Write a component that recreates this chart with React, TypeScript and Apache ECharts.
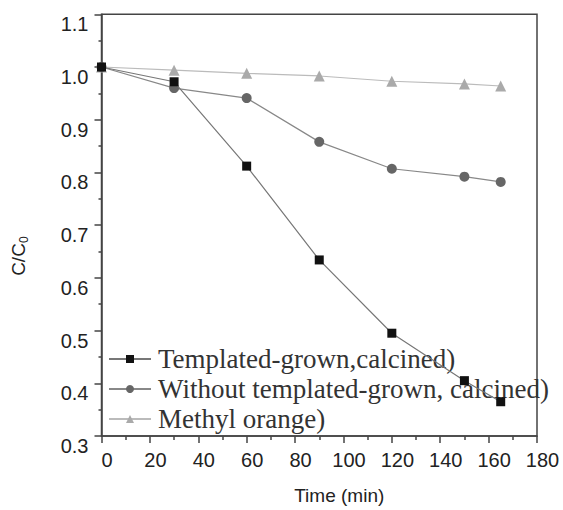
import React, { useEffect, useRef } from "react";
import * as echarts from "echarts";

const times = [0, 30, 60, 90, 120, 150, 165];
const templatedCalcined = [1.0, 0.972, 0.812, 0.634, 0.495, 0.405, 0.365];
const withoutTemplated = [1.0, 0.96, 0.941, 0.858, 0.807, 0.792, 0.782];
const methylOrange = [1.0, 0.994, 0.988, 0.983, 0.973, 0.968, 0.964];
const seriesNames = [
  "Templated-grown,calcined)",
  "Without templated-grown, calcined)",
  "Methyl orange)",
];

const pair = (ys: number[]) => times.map((t, i) => [t, ys[i]]);

export default function App() {
  const ref = useRef<HTMLDivElement>(null);
  useEffect(() => {
    if (!ref.current) return;
    const chart = echarts.init(ref.current, null, { renderer: "svg" });
    const sans = "Liberation Sans, Arial, sans-serif";
    const serif = "Liberation Serif, Times New Roman, serif";
    chart.setOption({
      animation: false,
      backgroundColor: "#ffffff",
      grid: {
        left: 101.5,
        right: 26,
        top: 14.3,
        bottom: 68.7,
        show: true,
        borderColor: "#444",
        borderWidth: 1.5,
        backgroundColor: "transparent",
      },
      legend: {
        orient: "vertical",
        left: 108,
        top: 345,
        padding: 0,
        itemWidth: 42,
        itemHeight: 10,
        itemGap: 2,
        data: seriesNames,
        textStyle: {
          fontFamily: serif,
          fontSize: 27,
          lineHeight: 28,
          color: "#333",
          padding: [0, 0, 0, 2],
        },
      },
      xAxis: {
        type: "value",
        min: 0,
        max: 180,
        interval: 20,
        name: "Time (min)",
        nameLocation: "middle",
        nameGap: 50,
        nameTextStyle: {
          fontFamily: sans,
          fontSize: 19,
          color: "#222",
          padding: [0, 0, 0, 40],
        },
        axisLine: { show: true, lineStyle: { color: "#444", width: 1.5 } },
        axisTick: { show: true, inside: false, length: 7, lineStyle: { color: "#444", width: 1.5 } },
        minorTick: { show: true, splitNumber: 2, length: 4, lineStyle: { color: "#444", width: 1.5 } },
        splitLine: { show: false },
        axisLabel: {
          fontFamily: sans,
          fontSize: 20,
          color: "#222",
          margin: 14,
          padding: [0, 0, 0, 11],
        },
      },
      yAxis: {
        type: "value",
        min: 0.3,
        max: 1.1,
        interval: 0.1,
        name: "C/C{sub|0}",
        nameLocation: "middle",
        nameRotate: 90,
        nameGap: 72,
        nameTextStyle: {
          fontFamily: sans,
          fontSize: 19,
          color: "#222",
          padding: [0, 62, 0, 0],
          rich: {
            sub: { fontFamily: sans, fontSize: 12, color: "#222", padding: [10, 0, 0, 0] },
          },
        },
        axisLine: { show: true, lineStyle: { color: "#444", width: 1.5 } },
        axisTick: { show: true, inside: false, length: 7, lineStyle: { color: "#444", width: 1.5 } },
        minorTick: { show: true, splitNumber: 2, length: 3, lineStyle: { color: "#444", width: 1.5 } },
        splitLine: { show: false },
        axisLabel: {
          fontFamily: sans,
          fontSize: 20,
          color: "#222",
          margin: 13,
          verticalAlign: "top",
          formatter: (v: number) => v.toFixed(1),
        },
      },
      series: [
        {
          name: seriesNames[0],
          type: "line",
          data: pair(templatedCalcined),
          symbol: "rect",
          symbolSize: 9,
          itemStyle: { color: "#111" },
          lineStyle: { color: "#777", width: 1.2 },
          z: 4,
        },
        {
          name: seriesNames[1],
          type: "line",
          data: pair(withoutTemplated),
          symbol: "circle",
          symbolSize: 10,
          itemStyle: { color: "#666" },
          lineStyle: { color: "#888", width: 1.2 },
          z: 3,
        },
        {
          name: seriesNames[2],
          type: "line",
          data: pair(methylOrange),
          symbol: "triangle",
          symbolSize: 11,
          itemStyle: { color: "#aaa" },
          lineStyle: { color: "#bbb", width: 1.2 },
          z: 2,
        },
      ],
    });
    return () => chart.dispose();
  }, []);
  return (
    <div
      ref={ref}
      style={{ position: "fixed", left: 0, top: 0, width: 563, height: 510, background: "#fff" }}
    />
  );
}
